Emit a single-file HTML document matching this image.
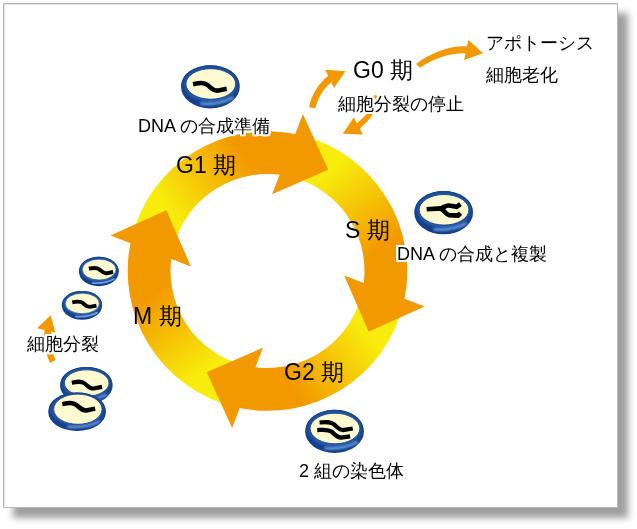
<!DOCTYPE html>
<html><head><meta charset="utf-8"><style>
html,body{margin:0;padding:0;background:#fff;width:637px;height:529px;overflow:hidden}
body{position:relative;font-family:"Liberation Sans",sans-serif;color:#000}
#frame{position:absolute;left:3px;top:3px;width:613px;height:503px;border:1px solid #bbb7b7;background:#fff;box-shadow:10px 10px 7px rgba(0,0,0,0.38), inset 1px 1px 0 #e4e2e2}
svg{position:absolute;left:0;top:0}
.t{position:absolute;white-space:nowrap;line-height:1;font-weight:300;will-change:transform}
:root{--halo:2.20px 0.00px 0.6px #fff, 2.03px 0.84px 0.6px #fff, 1.56px 1.56px 0.6px #fff, 0.84px 2.03px 0.6px #fff, 0.00px 2.20px 0.6px #fff, -0.84px 2.03px 0.6px #fff, -1.56px 1.56px 0.6px #fff, -2.03px 0.84px 0.6px #fff, -2.20px 0.00px 0.6px #fff, -2.03px -0.84px 0.6px #fff, -1.56px -1.56px 0.6px #fff, -0.84px -2.03px 0.6px #fff, -0.00px -2.20px 0.6px #fff, 0.84px -2.03px 0.6px #fff, 1.56px -1.56px 0.6px #fff, 2.03px -0.84px 0.6px #fff, 0 0 1px #fff}
</style></head><body>
<div id="frame"></div>
<svg width="637" height="529" viewBox="0 0 637 529">
<defs><linearGradient id="g0" gradientUnits="userSpaceOnUse" x1="167.43" y1="208.47" x2="242.97" y2="155.58"><stop offset="0" stop-color="#f8ec0c"/><stop offset="1" stop-color="#f39900"/></linearGradient><linearGradient id="g1" gradientUnits="userSpaceOnUse" x1="330.03" y1="170.93" x2="382.92" y2="246.47"><stop offset="0" stop-color="#f8ec0c"/><stop offset="1" stop-color="#f39900"/></linearGradient><linearGradient id="g2" gradientUnits="userSpaceOnUse" x1="367.57" y1="333.53" x2="292.03" y2="386.42"><stop offset="0" stop-color="#f8ec0c"/><stop offset="1" stop-color="#f39900"/></linearGradient><linearGradient id="g3" gradientUnits="userSpaceOnUse" x1="204.97" y1="371.07" x2="152.08" y2="295.53"><stop offset="0" stop-color="#f8ec0c"/><stop offset="1" stop-color="#f39900"/></linearGradient>
<linearGradient id="cb" x1="0" y1="0" x2="0" y2="1">
 <stop offset="0" stop-color="#184c9c"/><stop offset="1" stop-color="#123f88"/>
</linearGradient>
<radialGradient id="ct" cx="0.5" cy="0.5" r="0.5">
 <stop offset="0.78" stop-color="#2b67ba"/><stop offset="1" stop-color="#133f88"/>
</radialGradient>
<filter id="bl" x="-20%" y="-50%" width="140%" height="200%"><feGaussianBlur stdDeviation="1"/></filter>
<g id="cell">
 <ellipse cx="0" cy="0" rx="29.4" ry="21.6" fill="url(#cb)"/>
 <ellipse cx="0" cy="-2.4" rx="28.8" ry="19.2" fill="url(#ct)"/>
 <path d="M-10,16.6 Q8,18.6 23,10.5" fill="none" stroke="#6f9be0" stroke-width="2.6" filter="url(#bl)"/>
 <ellipse cx="0.4" cy="-2.9" rx="24.9" ry="15.3" fill="#fdf9d0" stroke="#123f82" stroke-width="0.9"/>
</g>
</defs>
<path fill="url(#g0)" d="M131.85,237.18 A139.8,139.8 0 0 1 296.57,134.25 L287.67,176.12 A97.0,97.0 0 0 0 173.38,247.53 Z"/><path fill="url(#g1)" d="M301.32,135.35 A139.8,139.8 0 0 1 404.25,300.07 L362.38,291.17 A97.0,97.0 0 0 0 290.97,176.88 Z"/><path fill="url(#g2)" d="M403.15,304.82 A139.8,139.8 0 0 1 238.43,407.75 L247.33,365.88 A97.0,97.0 0 0 0 361.62,294.47 Z"/><path fill="url(#g3)" d="M233.68,406.65 A139.8,139.8 0 0 1 130.75,241.93 L172.62,250.83 A97.0,97.0 0 0 0 244.03,365.12 Z"/>
<path fill="#f39900" d="M302.90,113.94 L328.27,169.85 L272.05,194.34 Z"/><path fill="#f39900" d="M424.56,306.40 L368.65,331.77 L344.16,275.55 Z"/><path fill="#f39900" d="M232.10,428.06 L206.73,372.15 L262.95,347.66 Z"/><path fill="#f39900" d="M110.44,235.60 L166.35,210.23 L190.84,266.45 Z"/>

<path fill="#f39900" d="M309.1,107.2 C311,96 318,84 327.8,76 L331,73.5 L334.5,79.5 L331.2,82.2 C323,89 318,98 315.3,108.3 Z"/>
<path fill="#f39900" d="M325.2,69.7 L345.4,71.2 L334,87.9 Z"/>
<path fill="#f39900" d="M416,63.9 C432,52 450,46 465.3,46.3 L470,46.5 L470,53 L464.6,53.2 C450,53 434,58 420,67.7 Z"/>
<path fill="#f39900" d="M468.4,40 L483.1,53.2 L464,59.9 Z"/>
<path fill="#f39900" d="M354.5,126 L357.8,122.8 C362,118.5 366,115 368.5,112 C371,108.5 373,102 374,95 L378,96 C377.5,103 376,109 373,114 C370,119 365,124 360.1,128.6 L356.5,131 Z"/>
<path fill="#f39900" d="M353.8,117.3 L342.8,133.8 L362.9,134.5 Z"/>
<path fill="#f39900" d="M45.5,326 L44.5,330 C43.5,340 45,352 50,363 L55.5,360 C51,350 50,340 51.5,330 L51,326 Z"/>
<path fill="#f39900" d="M37,328.3 L50.8,315.2 L55.3,332.5 Z"/>

<g transform="translate(210.4,86.85)"><g transform="scale(1,1)"><use href="#cell"/></g><g transform="translate(0,0) scale(1,1)"><path d="M-17.3,-2.6 C-11,-4 -6.5,-4.8 -2.5,-1.5 C0.5,1 2.5,4 7,3.8 L16.3,2.0" fill="none" stroke="#000" stroke-width="4.6"/></g></g><g transform="translate(443.65,212.7)"><g transform="scale(1,1)"><use href="#cell"/></g><g transform="translate(0,0) scale(1,1)"><path d="M-17,-3.4 L-3,-4.3 C0,-5 2,-7.2 4.5,-7.2 C8,-7.2 11,-5.8 13,-5.8 L16.8,-8.6 M-3.5,-4.3 C0.5,-3.5 2,2 5.5,2.4 L14.5,2.9 L16.8,0.4" fill="none" stroke="#000" stroke-width="4.6" stroke-linejoin="round"/></g></g><g transform="translate(334.55,431.4)"><g transform="scale(1,1)"><use href="#cell"/></g><g transform="translate(0,0) scale(1,1)"><path d="M-15,-8.9 C-9,-9.4 -4.5,-10.2 -0.5,-7 C2.5,-4.2 5,-1.3 8.5,-1.3 L18.2,-2.9 M-17.3,-1.3 C-11,-1.6 -6.5,-2.5 -2.5,0.6 C0.5,3.5 3,6.2 6.5,6.2 L15.6,5" fill="none" stroke="#000" stroke-width="4.2"/></g></g><g transform="translate(98.85,271.55)"><g transform="scale(0.68,0.68)"><use href="#cell"/></g><g transform="translate(2.5,-1) scale(0.72,0.72)"><path d="M-17.3,-2.6 C-11,-4 -6.5,-4.8 -2.5,-1.5 C0.5,1 2.5,4 7,3.8 L16.3,2.0" fill="none" stroke="#000" stroke-width="5.4"/></g></g><g transform="translate(82,305.35)"><g transform="scale(0.687,0.67)"><use href="#cell"/></g><g transform="translate(2.7,-1.2) scale(0.72,0.72)"><path d="M-17.3,-2.6 C-11,-4 -6.5,-4.8 -2.5,-1.5 C0.5,1 2.5,4 7,3.8 L16.3,2.0" fill="none" stroke="#000" stroke-width="5.4"/></g></g><g transform="translate(86.35,385.5)"><g transform="scale(0.896,0.86)"><use href="#cell"/></g><g transform="translate(1,-0.4) scale(0.9,0.9)"><path d="M-17.3,-2.6 C-11,-4 -6.5,-4.8 -2.5,-1.5 C0.5,1 2.5,4 7,3.8 L16.3,2.0" fill="none" stroke="#000" stroke-width="4.6"/></g></g><g transform="translate(77.1,411.8)"><g transform="scale(0.983,0.893)"><use href="#cell"/><ellipse cx="0.8" cy="-2.9" rx="24.6" ry="16.9" fill="#fdf9d0" stroke="#123f82" stroke-width="0.9"/></g><g transform="translate(2.1,-5.1) scale(0.98,0.98)"><path d="M-17.3,-2.6 C-11,-4 -6.5,-4.8 -2.5,-1.5 C0.5,1 2.5,4 7,3.8 L16.3,2.0" fill="none" stroke="#000" stroke-width="4.6"/></g></g>
</svg>
<div style="position:absolute;left:395.9px;top:245.4px;width:16px;height:16.5px;background:#fff"></div>
<div class="t" id="t0" style="left:138px;top:116.7px;font-size:18px;text-shadow:var(--halo);">DNA の合成準備</div>
<div class="t" id="t1" style="left:175.8px;top:153.7px;font-size:23px;">G1 期</div>
<div class="t" id="t2" style="left:352.8px;top:59.3px;font-size:23px;">G0 期</div>
<div class="t" id="t3" style="left:337.8px;top:95.4px;font-size:18px;text-shadow:var(--halo);">細胞分裂の停止</div>
<div class="t" id="t4" style="left:485.8px;top:33.5px;font-size:18px;">アポトーシス</div>
<div class="t" id="t5" style="left:486.2px;top:66.2px;font-size:18px;">細胞老化</div>
<div class="t" id="t6" style="left:345px;top:219.2px;font-size:23px;">S 期</div>
<div class="t" id="t7" style="left:396.6px;top:244.8px;font-size:18px;text-shadow:var(--halo);">DNA の合成と複製</div>
<div class="t" id="t8" style="left:132.8px;top:305.3px;font-size:23px;">M 期</div>
<div class="t" id="t9" style="left:27.1px;top:335.3px;font-size:18px;text-shadow:var(--halo);">細胞分裂</div>
<div class="t" id="t10" style="left:283.5px;top:360.6px;font-size:23px;">G2 期</div>
<div class="t" id="t11" style="left:298.6px;top:461.6px;font-size:18px;">2 組の染色体</div>

</body></html>
